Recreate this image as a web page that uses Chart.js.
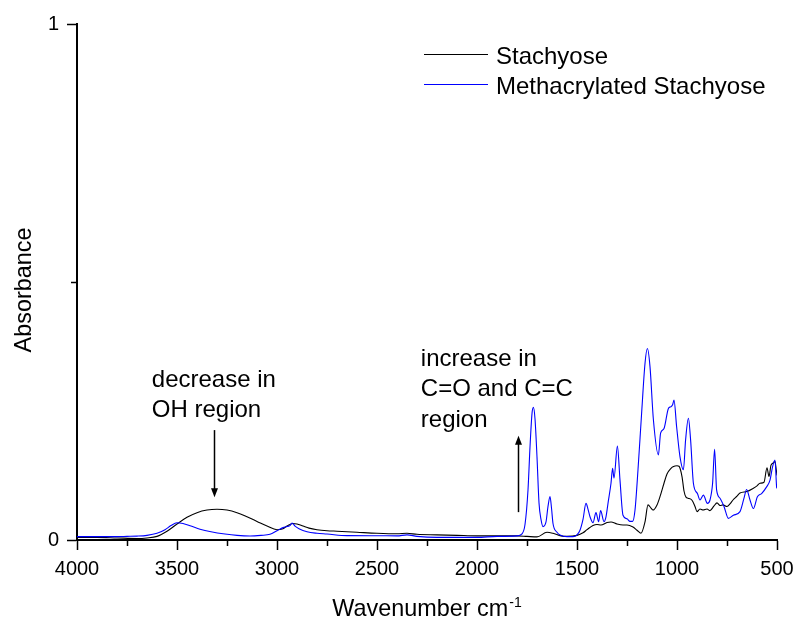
<!DOCTYPE html>
<html><head><meta charset="utf-8">
<script src="https://cdn.jsdelivr.net/npm/chart.js@4/dist/chart.umd.min.js"></script>
<style>html,body{margin:0;padding:0;background:#fff;} canvas{display:block;}</style>
</head><body>
<canvas id="c" width="796" height="621" style="width:796px;height:621px"></canvas>
<script>
const FONT = '"Liberation Sans", Arial, sans-serif';

// ---- tick labels ----
const xTickValues = [4000, 3500, 3000, 2500, 2000, 1500, 1000, 500];
const xMinorTicks = [3750, 3250, 2750, 2250, 1750, 1250, 750];
const yTickValues = [0, 1];
const yMinorTicks = [0.5];
const seriesLabels = ['Stachyose', 'Methacrylated Stachyose'];
const xAxisTitle = 'Wavenumber cm';
const xAxisTitleSup = '-1';
const yAxisTitle = 'Absorbance';

// ---- Stachyose ----
const stachyoseWavenumber = [4000,3900,3800,3700,3650,3600,3550,3500,3450,3400,3350,3300,3250,3200,3150,3100,3050,3000,2970,2950,2920,2900,2870,2840,2800,2750,2700,2600,2500,2400,2350,2300,2200,2100,2000,1900,1800,1750,1700,1650,1620,1580,1550,1500,1470,1450,1420,1400,1380,1350,1330,1300,1270,1250,1220,1200,1180,1160,1145,1130,1120,1100,1085,1065,1050,1030,1020,1000,990,975,965,955,945,925,910,900,885,870,850,835,815,800,785,770,750,735,720,700,685,650,620,600,585,565,550,540,530,520,510,505,500];
const stachyoseAbsorbance = [0.005,0.005,0.004,0.003,0.004,0.007,0.017,0.031,0.044,0.053,0.058,0.0595,0.058,0.053,0.045,0.036,0.027,0.020,0.022,0.027,0.032,0.031,0.027,0.023,0.020,0.018,0.017,0.015,0.013,0.012,0.013,0.011,0.010,0.009,0.008,0.008,0.008,0.007,0.006,0.015,0.013,0.008,0.007,0.009,0.014,0.020,0.028,0.030,0.029,0.034,0.035,0.031,0.029,0.029,0.025,0.019,0.013,0.035,0.068,0.062,0.058,0.068,0.084,0.110,0.128,0.139,0.142,0.144,0.143,0.123,0.095,0.083,0.081,0.077,0.065,0.055,0.060,0.058,0.060,0.057,0.066,0.072,0.067,0.068,0.065,0.070,0.0775,0.085,0.091,0.094,0.100,0.105,0.110,0.112,0.140,0.123,0.145,0.149,0.152,0.140,0.125];

// ---- Methacrylated Stachyose ----
const methWavenumber = [4000,3900,3800,3750,3700,3650,3600,3560,3530,3500,3470,3430,3385,3330,3260,3200,3135,3080,3035,3000,2970,2950,2935,2925,2910,2890,2850,2800,2750,2650,2500,2400,2350,2300,2200,2100,2000,1900,1800,1775,1760,1745,1735,1725,1718,1710,1700,1690,1680,1670,1655,1645,1635,1627,1620,1600,1585,1550,1520,1500,1485,1470,1455,1445,1435,1420,1405,1392,1382,1365,1355,1345,1330,1322,1315,1298,1285,1270,1250,1235,1222,1210,1195,1177,1160,1148,1135,1118,1093,1082,1065,1043,1032,1022,1015,1002,985,968,957,943,932,918,898,885,868,848,835,822,812,802,785,765,743,718,685,665,652,635,618,598,577,552,535,522,510,502,500];
const methAbsorbance = [0.0065,0.0065,0.0065,0.007,0.0075,0.009,0.013,0.020,0.028,0.0335,0.032,0.027,0.021,0.016,0.0116,0.009,0.0078,0.009,0.011,0.018,0.024,0.026,0.028,0.033,0.027,0.022,0.016,0.013,0.0116,0.0085,0.0083,0.008,0.010,0.007,0.005,0.005,0.005,0.007,0.008,0.012,0.030,0.097,0.18,0.245,0.257,0.235,0.161,0.072,0.040,0.026,0.035,0.065,0.084,0.060,0.032,0.015,0.0097,0.0065,0.0065,0.010,0.019,0.040,0.071,0.060,0.045,0.0335,0.053,0.0355,0.057,0.0355,0.045,0.071,0.110,0.139,0.120,0.182,0.116,0.048,0.041,0.036,0.036,0.058,0.136,0.245,0.342,0.371,0.336,0.233,0.165,0.207,0.216,0.255,0.258,0.262,0.271,0.22,0.161,0.136,0.194,0.236,0.194,0.11,0.09,0.0775,0.087,0.071,0.0775,0.11,0.176,0.097,0.081,0.065,0.042,0.048,0.055,0.081,0.098,0.0775,0.061,0.084,0.09,0.103,0.116,0.142,0.155,0.103,0.10];

// ---- annotations (data units) ----
const noteOH = { lines: ['decrease in', 'OH region'], x: 3626, y: 0.297 };
const noteCO = { lines: ['increase in', 'C=O and C=C', 'region'], x: 2281, y: 0.338 };
const arrowDown = { x: 3315, from: 0.213, to: 0.083 };
const arrowUp = { x: 1795, from: 0.054, to: 0.202 };

function toPoints(xs, ys) { return xs.map((x, i) => ({ x: x, y: ys[i] })); }

function drawArrow(ctx, x, y1, y2) {
  const dir = y2 > y1 ? 1 : -1;
  const head = 9, half = 3.5;
  ctx.beginPath();
  ctx.moveTo(x, y1);
  ctx.lineTo(x, y2 - dir * head + dir * 1);
  ctx.lineWidth = 1.5; ctx.strokeStyle = '#000'; ctx.stroke();
  ctx.beginPath();
  ctx.moveTo(x, y2);
  ctx.lineTo(x - half, y2 - dir * head);
  ctx.lineTo(x + half, y2 - dir * head);
  ctx.closePath(); ctx.fillStyle = '#000'; ctx.fill();
}

const decorPlugin = {
  id: 'decor',
  afterDraw(chart) {
    const ctx = chart.ctx, xs = chart.scales.x, ys = chart.scales.y, a = chart.chartArea;
    ctx.save();
    // minor ticks
    ctx.strokeStyle = '#000'; ctx.lineWidth = 1.5;
    xMinorTicks.forEach(v => {
      const px = Math.round(xs.getPixelForValue(v)) + 0.5;
      ctx.beginPath(); ctx.moveTo(px, a.bottom); ctx.lineTo(px, a.bottom + 6); ctx.stroke();
    });
    yMinorTicks.forEach(v => {
      const py = Math.round(ys.getPixelForValue(v)) + 0.5;
      ctx.beginPath(); ctx.moveTo(a.left, py); ctx.lineTo(a.left - 6, py); ctx.stroke();
    });
    // axis titles
    ctx.fillStyle = '#000';
    ctx.textBaseline = 'alphabetic';
    ctx.font = '23.4px ' + FONT;
    const wMain = ctx.measureText(xAxisTitle).width;
    ctx.font = '14px ' + FONT;
    const wSup = ctx.measureText(xAxisTitleSup).width;
    const cx = (a.left + a.right) / 2;
    const startX = cx - (wMain + wSup + 1) / 2;
    ctx.font = '23.4px ' + FONT; ctx.textAlign = 'left';
    ctx.fillText(xAxisTitle, startX, a.bottom + 76);
    ctx.font = '14px ' + FONT;
    ctx.fillText(xAxisTitleSup, startX + wMain + 1, a.bottom + 67);
    ctx.save();
    ctx.translate(31, 290);
    ctx.rotate(-Math.PI / 2);
    ctx.font = '23.4px ' + FONT; ctx.textAlign = 'center';
    ctx.fillText(yAxisTitle, 0, 0);
    ctx.restore();
    // legend
    ctx.font = '24px ' + FONT; ctx.textAlign = 'left';
    chart.data.datasets.forEach((ds, i) => {
      const base = 64 + i * 30;
      const ly = base - 9.5;
      ctx.beginPath(); ctx.moveTo(424, ly); ctx.lineTo(488, ly);
      ctx.strokeStyle = ds.borderColor; ctx.lineWidth = 1.2; ctx.stroke();
      ctx.fillStyle = '#000';
      ctx.fillText(ds.label, 496, base);
    });
    // annotations
    ctx.font = '24px ' + FONT; ctx.fillStyle = '#000';
    [noteOH, noteCO].forEach(n => {
      const px = xs.getPixelForValue(n.x), py = ys.getPixelForValue(n.y);
      n.lines.forEach((t, i) => ctx.fillText(t, px, py + i * 30.5));
    });
    [arrowDown, arrowUp].forEach(ar => {
      const px = Math.round(xs.getPixelForValue(ar.x)) + 0.5;
      drawArrow(ctx, px, ys.getPixelForValue(ar.from), ys.getPixelForValue(ar.to));
    });
    ctx.restore();
  }
};

const tickFont = { family: FONT, size: 20 };
new Chart(document.getElementById('c').getContext('2d'), {
  type: 'line',
  data: {
    datasets: [
      { label: seriesLabels[0], data: toPoints(stachyoseWavenumber, stachyoseAbsorbance), borderColor: '#000000', borderWidth: 1.1, pointRadius: 0, cubicInterpolationMode: 'monotone', fill: false, order: 1 },
      { label: seriesLabels[1], data: toPoints(methWavenumber, methAbsorbance), borderColor: '#0000ff', borderWidth: 1.1, pointRadius: 0, cubicInterpolationMode: 'monotone', fill: false, order: 0 }
    ]
  },
  options: {
    responsive: false, animation: false, devicePixelRatio: 1,
    layout: { padding: { left: 0, right: 19, top: 24, bottom: 0 } },
    plugins: { legend: { display: false }, tooltip: { enabled: false } },
    scales: {
      x: {
        type: 'linear', reverse: true, min: 500, max: 4000,
        afterBuildTicks: s => { s.ticks = xTickValues.map(v => ({ value: v })); },
        afterFit: s => { s.height = 81; s.paddingLeft = 0; s.paddingRight = 0; },
        ticks: { callback: v => String(v), font: tickFont, color: '#000', padding: 7, maxRotation: 0, autoSkip: false },
        grid: { display: true, drawOnChartArea: false, drawTicks: true, tickLength: 10, tickColor: '#000', tickWidth: 1.5 },
        border: { display: true, color: '#000', width: 2 }
      },
      y: {
        type: 'linear', min: 0, max: 1,
        afterBuildTicks: s => { s.ticks = yTickValues.map(v => ({ value: v })); },
        afterFit: s => { s.width = 77; s.paddingTop = 0; s.paddingBottom = 0; },
        ticks: { callback: v => String(v), font: tickFont, color: '#000', padding: 8, autoSkip: false },
        grid: { display: true, drawOnChartArea: false, drawTicks: true, tickLength: 10, tickColor: '#000', tickWidth: 1.5 },
        border: { display: true, color: '#000', width: 2 }
      }
    }
  },
  plugins: [decorPlugin]
});
</script>
</body></html>
